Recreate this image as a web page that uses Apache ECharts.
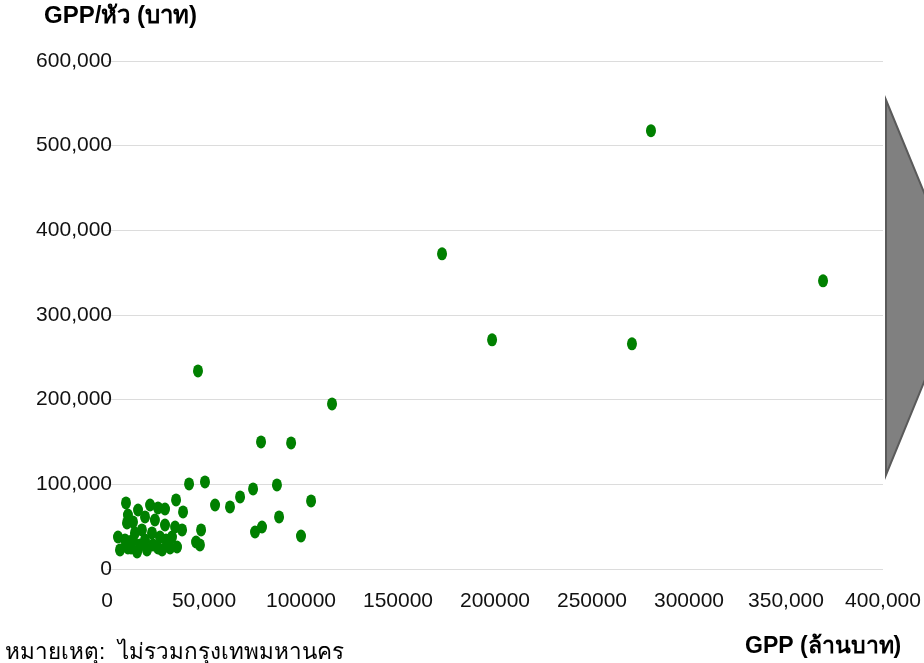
<!DOCTYPE html>
<html><head><meta charset="utf-8">
<script src="https://cdn.jsdelivr.net/npm/echarts@6/dist/echarts.min.js"></script>
<style>html,body{margin:0;padding:0;background:#fff}#c{width:924px;height:663px}</style>
</head><body><div id="c"></div>
<script>
// GPP (million baht) per province
const gppValues = [5670,6700,9280,9790,10300,10800,10800,12400,13400,13400,14400,15500,16000,17000,18000,19600,19600,20600,22200,23200,23700,24700,26300,26300,27300,28400,29900,29900,30400,32500,33500,35100,35600,36100,38700,39200,42300,45900,47900,48500,46900,50500,55700,63400,68600,75300,76300,79900,79400,87600,88700,94900,100000,105200,116000,172700,198500,270600,280400,369100];
// GPP per capita (baht) per province
const gppPerCapita = [37800,22500,34300,78000,54400,24800,63800,24800,55600,34300,42600,20100,69700,28400,46100,61500,34300,22500,75600,42600,28400,57900,24800,72100,37800,22500,70900,52000,34300,24800,37800,49600,81600,26000,46100,67400,100500,31900,28400,46100,234000,102800,75600,73300,85100,94600,43700,49600,150100,99300,61500,148900,39000,80400,195000,372300,270700,266000,517700,340400];
const xTicks = ["0","50,000","100000","150000","200000","250000","300000","350,000","400,000"];
const yTicks = ["0","100,000","200,000","300,000","400,000","500,000","600,000"];
const yTitle = "GPP/หัว (บาท)";
const xTitle = "GPP (ล้านบาท)";
const noteText = "หมายเหตุ:  ไม่รวมกรุงเทพมหานคร";

const FONT = "'Liberation Sans Narrow','Arial Narrow','Liberation Sans',Arial,sans-serif";
const points = gppValues.map((v,i)=>[v,gppPerCapita[i]]);
const chart = echarts.init(document.getElementById('c'), null, {renderer:'canvas'});
chart.setOption({
  animation:false,
  backgroundColor:'#fff',
  grid:{left:107,right:41,top:61,bottom:94,containLabel:false,outerBoundsMode:'none'},
  xAxis:{type:'value',min:0,max:400000,interval:50000,
    axisLine:{show:false},axisTick:{show:false},splitLine:{show:false},
    axisLabel:{margin:22,color:'#111',fontSize:21,fontFamily:FONT,
      formatter:(v)=>xTicks[Math.round(v/50000)]}},
  yAxis:{type:'value',min:0,max:600000,interval:100000,
    axisLine:{show:false},axisTick:{show:false},
    splitLine:{show:true,lineStyle:{color:'#dcdcdc',width:1}},
    axisLabel:{margin:-5,color:'#111',fontSize:21,fontFamily:FONT,
      formatter:(v)=>yTicks[Math.round(v/100000)]}},
  series:[{type:'scatter',data:points,symbol:'circle',symbolSize:[10,13],
    itemStyle:{color:'#008000',opacity:1}}],
  graphic:[
    {type:'polygon',shape:{points:[[886,100],[963,287],[886,475]]},
      style:{fill:'#808080',stroke:'#5a5a5a',lineWidth:2},z:10},
    {type:'text',left:44,top:4,style:{text:yTitle,fontSize:24,fontWeight:'bold',fontFamily:FONT,fill:'#000'}},
    {type:'text',left:745,top:635,style:{text:xTitle,fontSize:23,fontWeight:'bold',fontFamily:FONT,fill:'#000'}},
    {type:'text',left:5,top:641,style:{text:noteText,fontSize:22.5,fontFamily:FONT,fill:'#000'}}
  ]
});
</script></body></html>
